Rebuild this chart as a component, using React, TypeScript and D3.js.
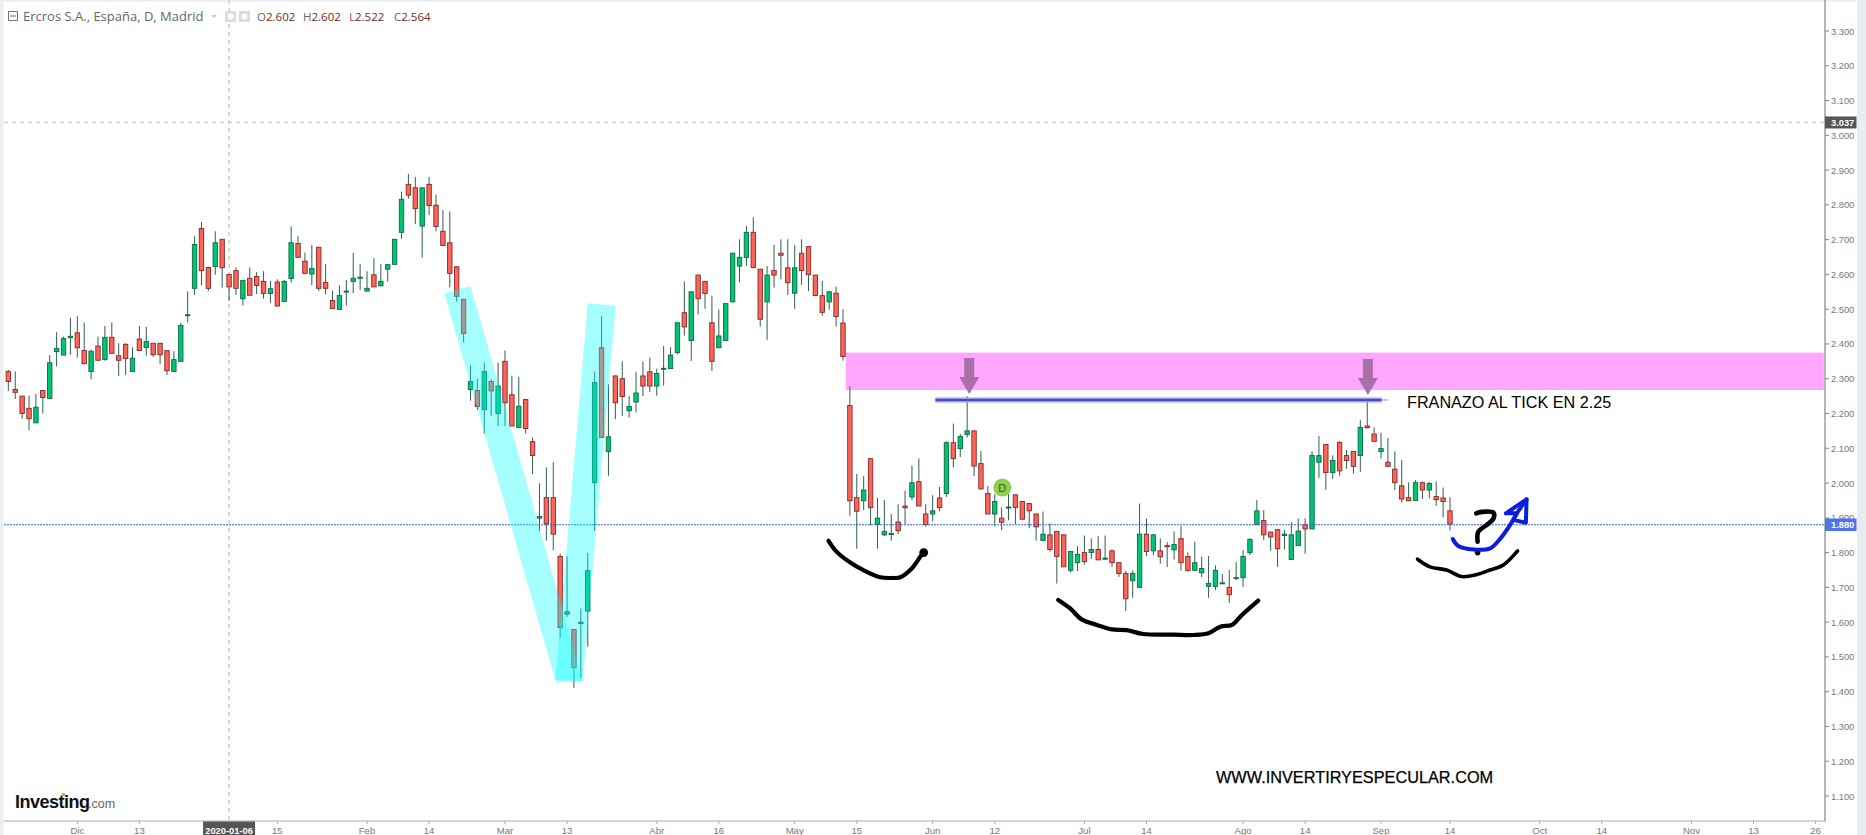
import React from 'react';
import * as d3 from 'd3';

const W = 1866, H = 835;

const highs = [
2.325,2.321,2.250,2.252,2.256,2.266,2.368,2.434,2.421,2.475,
2.480,2.462,2.384,2.421,2.452,2.462,2.402,2.402,2.390,2.451,
2.449,2.402,2.402,2.381,2.379,2.461,2.551,2.710,2.751,2.622,
2.724,2.701,2.601,2.620,2.583,2.620,2.607,2.609,2.581,2.586,
2.584,2.738,2.710,2.663,2.685,2.678,2.630,2.553,2.569,2.584,
2.662,2.630,2.609,2.647,2.630,2.628,2.701,2.838,2.889,2.880,
2.849,2.880,2.829,2.785,2.781,2.622,2.530,2.338,2.300,2.346,
2.298,2.346,2.381,2.309,2.306,2.240,2.131,1.999,2.045,2.060,
1.797,1.790,1.579,1.639,1.799,2.321,2.480,2.284,2.309,2.350,
2.250,2.320,2.349,2.361,2.329,2.394,2.390,2.461,2.580,2.551,
2.599,2.580,2.539,2.499,2.518,2.662,2.701,2.739,2.764,2.615,
2.624,2.685,2.701,2.701,2.684,2.701,2.680,2.598,2.581,2.552,
2.565,2.500,2.279,2.026,2.020,2.071,1.957,1.951,1.911,1.939,
1.978,2.050,2.071,1.939,1.965,1.989,2.120,2.171,2.141,2.250,
2.150,2.092,1.992,1.968,1.930,1.968,1.967,1.948,1.941,1.912,
1.918,1.884,1.862,1.851,1.803,1.818,1.849,1.841,1.847,1.849,
1.809,1.771,1.748,1.749,1.941,1.898,1.853,1.841,1.830,1.861,
1.876,1.801,1.831,1.788,1.790,1.763,1.738,1.750,1.773,1.807,
1.841,1.951,1.922,1.859,1.866,1.865,1.888,1.898,1.899,2.091,
2.135,2.111,2.080,2.120,2.095,2.091,2.181,2.243,2.160,2.145,
2.130,2.091,2.066,2.002,2.008,2.004,2.003,2.005,1.987,1.959];

const lows = [
2.265,2.242,2.185,2.152,2.173,2.200,2.243,2.335,2.368,2.369,
2.361,2.343,2.298,2.353,2.352,2.373,2.308,2.311,2.321,2.381,
2.366,2.363,2.342,2.311,2.321,2.350,2.462,2.541,2.569,2.552,
2.599,2.562,2.524,2.541,2.510,2.540,2.543,2.530,2.518,2.509,
2.522,2.577,2.649,2.603,2.569,2.552,2.543,2.502,2.499,2.510,
2.546,2.555,2.552,2.564,2.567,2.579,2.629,2.703,2.818,2.745,
2.648,2.771,2.724,2.682,2.563,2.522,2.405,2.237,2.210,2.142,
2.193,2.164,2.164,2.164,2.160,2.142,2.026,1.862,1.834,1.807,
1.554,1.615,1.411,1.440,1.529,1.862,2.131,2.021,2.184,2.193,
2.188,2.203,2.250,2.262,2.251,2.280,2.329,2.370,2.424,2.351,
2.485,2.501,2.322,2.389,2.410,2.521,2.577,2.625,2.620,2.450,
2.412,2.562,2.586,2.541,2.501,2.570,2.552,2.539,2.481,2.498,
2.450,2.352,1.906,1.811,1.922,1.879,1.811,1.847,1.834,1.853,
1.882,1.951,1.934,1.874,1.890,1.919,1.960,2.045,2.075,2.131,
2.020,1.982,1.911,1.876,1.864,1.893,1.882,1.896,1.870,1.834,
1.835,1.803,1.711,1.759,1.743,1.747,1.765,1.782,1.779,1.780,
1.759,1.730,1.632,1.670,1.700,1.790,1.792,1.768,1.759,1.780,
1.748,1.745,1.749,1.730,1.670,1.692,1.711,1.655,1.721,1.701,
1.793,1.881,1.836,1.805,1.759,1.809,1.780,1.820,1.797,1.868,
2.015,1.980,2.012,2.021,2.041,2.027,2.032,2.157,2.120,2.071,
2.047,1.980,1.944,1.949,1.950,1.954,1.956,1.934,1.901,1.864];

const opens = [
2.321,2.269,2.250,2.215,2.173,2.266,2.243,2.378,2.368,2.418,
2.432,2.381,2.321,2.394,2.355,2.419,2.366,2.399,2.321,2.414,
2.390,2.402,2.402,2.381,2.321,2.350,2.482,2.560,2.732,2.620,
2.623,2.701,2.600,2.611,2.530,2.589,2.594,2.580,2.545,2.578,
2.522,2.588,2.689,2.638,2.601,2.678,2.577,2.525,2.499,2.550,
2.580,2.591,2.552,2.599,2.567,2.615,2.629,2.721,2.859,2.849,
2.739,2.859,2.799,2.724,2.691,2.622,2.528,2.269,2.266,2.211,
2.292,2.200,2.350,2.254,2.160,2.240,2.119,1.899,1.958,1.958,
1.789,1.623,1.579,1.596,1.632,2.001,2.389,2.091,2.308,2.300,
2.208,2.233,2.308,2.320,2.279,2.328,2.329,2.375,2.490,2.410,
2.598,2.580,2.461,2.389,2.410,2.521,2.624,2.649,2.721,2.615,
2.521,2.611,2.661,2.619,2.546,2.661,2.680,2.598,2.539,2.521,
2.546,2.460,2.223,1.958,1.949,2.070,1.881,1.851,1.853,1.888,
1.934,1.960,2.004,1.911,1.911,1.957,1.970,2.116,2.099,2.140,
2.150,2.056,1.970,1.911,1.899,1.929,1.966,1.947,1.941,1.911,
1.835,1.851,1.861,1.851,1.749,1.771,1.800,1.800,1.809,1.781,
1.805,1.771,1.740,1.719,1.700,1.853,1.805,1.805,1.820,1.808,
1.840,1.789,1.749,1.742,1.703,1.703,1.711,1.700,1.726,1.728,
1.800,1.881,1.892,1.859,1.866,1.849,1.780,1.820,1.880,1.868,
2.060,2.111,2.030,2.117,2.079,2.091,2.079,2.164,2.141,2.091,
2.060,2.040,1.992,1.958,1.950,2.001,1.980,1.961,1.957,1.920];

const closes = [
2.292,2.261,2.200,2.185,2.218,2.246,2.346,2.387,2.416,2.422,
2.389,2.343,2.379,2.353,2.419,2.373,2.353,2.358,2.359,2.381,
2.407,2.369,2.369,2.323,2.355,2.453,2.484,2.686,2.611,2.560,
2.691,2.619,2.564,2.560,2.583,2.540,2.568,2.545,2.559,2.509,
2.580,2.691,2.649,2.603,2.617,2.560,2.560,2.502,2.539,2.552,
2.589,2.592,2.560,2.564,2.580,2.628,2.701,2.816,2.828,2.789,
2.849,2.798,2.738,2.683,2.603,2.537,2.430,2.292,2.220,2.321,
2.265,2.279,2.231,2.164,2.221,2.157,2.079,1.904,1.883,1.853,
1.584,1.630,1.469,1.600,1.748,2.289,2.131,2.133,2.231,2.249,
2.220,2.259,2.279,2.279,2.315,2.330,2.368,2.461,2.449,2.550,
2.530,2.545,2.350,2.423,2.516,2.661,2.649,2.721,2.620,2.471,
2.598,2.598,2.655,2.576,2.619,2.611,2.599,2.539,2.491,2.550,
2.479,2.364,1.949,1.919,1.980,1.929,1.899,1.861,1.855,1.863,
1.929,2.001,1.934,1.881,1.920,1.929,2.116,2.070,2.134,2.150,
2.049,1.983,1.911,1.947,1.887,1.931,1.930,1.896,1.920,1.874,
1.853,1.809,1.789,1.759,1.803,1.795,1.774,1.809,1.779,1.784,
1.771,1.740,1.667,1.740,1.853,1.803,1.851,1.788,1.818,1.823,
1.771,1.748,1.771,1.754,1.711,1.749,1.713,1.679,1.728,1.789,
1.838,1.920,1.851,1.845,1.811,1.853,1.851,1.862,1.868,2.079,
2.079,2.030,2.065,2.035,2.065,2.048,2.160,2.159,2.120,2.099,
2.048,2.001,1.954,1.949,2.001,1.980,1.999,1.952,1.947,1.882];

const priceTicks = [3.3,3.2,3.1,3.0,2.9,2.8,2.7,2.6,2.5,2.4,2.3,2.2,2.1,2.0,1.9,1.8,1.7,1.6,1.5,1.4,1.3,1.2,1.1];
const dateTickLabels = ['Dic','13','15','Feb','14','Mar','13','Abr','16','May','15','Jun','12','Jul','14','Ago','14','Sep','14','Oct','14','Nov','13','26'];
const dateTickBars = [10,19,39,52,61,72,81,94,103,114,123,134,143,156,165,179,188,199,209,222,231,244,253,262];
const crosshairBar = 32;
const crosshairLabel = '2020-01-06';
const crosshairPrice = 3.037;
const lastPrice = 1.88;

// Hand drawn annotations, as [bar, price]
const vLeftLeg = [[63.2,2.546],[67.0,2.567],[83.3,1.431],[79.4,1.426]];
const vRightLeg = [[84.0,2.517],[88.05,2.509],[83.3,1.431],[79.3,1.435]];
const resistanceZone = { bars: [121.4, 263.2], prices: [2.375, 2.2675] };
const tickLine = { bars: [134.4, 199.1], price: 2.239 };
const arrowTips = [[139.3,2.256],[197.1,2.253]];
const shoulderLeft = [[118.9,1.834],[120.1,1.802],[122.0,1.772],[123.9,1.750],[126.4,1.729],[128.1,1.727],[129.3,1.729],[131.0,1.755],[132.2,1.788],[132.7,1.800]];
const headCurve = [[152.2,1.664],[153.9,1.640],[155.6,1.608],[157.8,1.592],[160.0,1.579],[162.1,1.577],[164.5,1.566],[168.9,1.564],[171.8,1.563],[174.0,1.568],[175.7,1.587],[177.4,1.592],[178.8,1.620],[181.2,1.662]];
const shoulderRight = [[204.3,1.781],[206.1,1.759],[208.5,1.750],[210.7,1.731],[212.9,1.737],[214.8,1.750],[216.7,1.764],[218.8,1.805]];
const questionHook = [[212.8,1.913],[213.6,1.917],[215.3,1.915],[215.3,1.898],[214.3,1.879],[213.1,1.860],[213.0,1.831]];
const questionDot = [213.0,1.800];
const blueStroke = [[209.4,1.839],[210.2,1.819],[212.4,1.809],[214.8,1.812],[216.2,1.838],[217.7,1.879],[218.7,1.913],[220.1,1.953]];
const blueHead = [[217.1,1.913],[220.1,1.953],[220.0,1.886],[218.2,1.894],[218.7,1.913],[217.1,1.913]];
const dividendBadge = [144.1,1.987];

const x = d3.scaleLinear().domain([0, 209]).range([8.33, 1450]);
const y = d3.scaleLinear().domain([3.3, 1.1]).range([31, 796]);

const AXIS_X = 1825, AXIS_Y = 821;
const sans = '"Liberation Sans", Arial, sans-serif';
const ink = d3.line<number[]>().x(d => x(d[0])).y(d => y(d[1])).curve(d3.curveCatmullRom);
const poly = d3.line<number[]>().x(d => x(d[0])).y(d => y(d[1]));

function Arrow({ tip }: { tip: number[] }) {
  const tx = x(tip[0]), ty = y(tip[1]);
  const d = `M${tx},${ty} L${tx - 10},${ty - 17} L${tx - 5},${ty - 17} L${tx - 5},${ty - 36} L${tx + 5},${ty - 36} L${tx + 5},${ty - 17} L${tx + 10},${ty - 17} Z`;
  return <path d={d} fill="#a96fa9" />;
}

export default function App() {
  const [bx, by] = dividendBadge;
  return (
    <svg width={W} height={H} viewBox={`0 0 ${W} ${H}`}
      style={{ position: 'fixed', left: 0, top: 0, display: 'block', background: '#ffffff' }}>
      {/* frame */}
      <rect x={0} y={0} width={W} height={1.5} fill="#e8ecf1" />
      <rect x={0} y={0} width={3.5} height={H} fill="#eceef2" />
      <rect x={1857} y={0} width={9} height={H} fill="#e8ecf1" />

      {/* crosshair */}
      <line x1={x(crosshairBar)} x2={x(crosshairBar)} y1={0} y2={AXIS_Y} stroke="#c9c9c9" strokeWidth={1.4} strokeDasharray="4 4" />
      <line x1={4} x2={AXIS_X} y1={y(crosshairPrice)} y2={y(crosshairPrice)} stroke="#c9c9c9" strokeWidth={1.2} strokeDasharray="4 4" />

      {/* candles */}
      <g>
        {opens.map((o, i) => {
          const c = closes[i];
          const up = c >= o;
          const top = y(Math.max(o, c)), bot = y(Math.min(o, c));
          return (
            <g key={i}>
              <line x1={x(i)} x2={x(i)} y1={y(highs[i])} y2={y(lows[i])} stroke="#2f5f4e" strokeWidth={1} />
              <rect x={x(i) - 2.2} y={top} width={4.4} height={Math.max(bot - top, 1)}
                fill={up ? '#00c472' : '#ff6458'} stroke={up ? '#0b6a46' : '#7f2a28'} strokeWidth={0.9} />
            </g>
          );
        })}
      </g>

      {/* last price line */}
      <line x1={4} x2={AXIS_X} y1={y(lastPrice)} y2={y(lastPrice)} stroke="#2f62e8" strokeWidth={1} strokeDasharray="2 1" />

      {/* V pattern */}
      <path d={poly(vLeftLeg) + 'Z'} fill="#00ffff" fillOpacity={0.35} />
      <path d={poly(vRightLeg) + 'Z'} fill="#00ffff" fillOpacity={0.35} />

      {/* resistance zone */}
      <rect x={x(resistanceZone.bars[0])} width={x(resistanceZone.bars[1]) - x(resistanceZone.bars[0])}
        y={y(resistanceZone.prices[0])} height={y(resistanceZone.prices[1]) - y(resistanceZone.prices[0])}
        fill="#ff00ff" fillOpacity={0.35} />

      {/* tick line */}
      <line x1={x(tickLine.bars[0])} x2={x(tickLine.bars[1])} y1={y(tickLine.price)} y2={y(tickLine.price)} stroke="#9a9aea" strokeWidth={5} />
      <line x1={x(tickLine.bars[0])} x2={x(tickLine.bars[1])} y1={y(tickLine.price)} y2={y(tickLine.price)} stroke="#4a4ac4" strokeWidth={2} />
      <line x1={x(tickLine.bars[1])} x2={x(tickLine.bars[1]) + 6} y1={y(tickLine.price)} y2={y(tickLine.price)} stroke="#c4c4c4" strokeWidth={2} />

      {arrowTips.map((t, i) => <Arrow key={i} tip={t} />)}

      {/* hand drawn */}
      <path d={ink(shoulderLeft)!} fill="none" stroke="#000" strokeWidth={4.2} strokeLinecap="round" strokeLinejoin="round" />
      <circle cx={x(132.7)} cy={y(1.800)} r={4.4} fill="#000" />
      <path d={ink(headCurve)!} fill="none" stroke="#000" strokeWidth={4.2} strokeLinecap="round" strokeLinejoin="round" />
      <path d={ink(shoulderRight)!} fill="none" stroke="#000" strokeWidth={3.6} strokeLinecap="round" strokeLinejoin="round" />
      <path d={ink(questionHook)!} fill="none" stroke="#000" strokeWidth={4.6} strokeLinecap="round" strokeLinejoin="round" />
      <circle cx={x(questionDot[0])} cy={y(questionDot[1])} r={2.8} fill="#000" />
      <path d={ink(blueStroke)!} fill="none" stroke="#0a1ee0" strokeWidth={4} strokeLinecap="round" strokeLinejoin="round" />
      <path d={poly(blueHead)!} fill="none" stroke="#0a1ee0" strokeWidth={4} strokeLinecap="round" strokeLinejoin="round" />

      {/* badge */}
      <circle cx={x(bx)} cy={y(by)} r={9} fill="#8ed14f" />
      <text x={x(bx)} y={y(by) + 4} textAnchor="middle" fontFamily={sans} fontSize={11} fill="#3d5a28">D</text>

      {/* notes */}
      <text x={1407} y={407.5} fontFamily={sans} fontSize={16.2} fill="#000">FRANAZO AL TICK EN 2.25</text>
      <text x={1216} y={783} fontFamily={sans} fontSize={16.3} fill="#000" stroke="#000" strokeWidth={0.25}>WWW.INVERTIRYESPECULAR.COM</text>

      {/* axes */}
      <line x1={AXIS_X} x2={AXIS_X} y1={0} y2={AXIS_Y + 0.5} stroke="#808488" strokeWidth={1.2} />
      <line x1={4} x2={AXIS_X} y1={AXIS_Y} y2={AXIS_Y} stroke="#a8aaad" strokeWidth={1.2} />
      {priceTicks.map(p => (
        <g key={p}>
          <line x1={AXIS_X} x2={AXIS_X + 4} y1={y(p)} y2={y(p)} stroke="#808488" />
          <text x={AXIS_X + 6} y={y(p) + 3.5} fontFamily={sans} fontSize={9.3} fill="#777">{p.toFixed(3)}</text>
        </g>
      ))}
      {dateTickBars.map((b, i) => (
        <g key={i}>
          <line x1={x(b)} x2={x(b)} y1={AXIS_Y} y2={AXIS_Y + 3} stroke="#a8aaad" />
          <text x={x(b)} y={833.5} textAnchor="middle" fontFamily={sans} fontSize={9.6} fill="#777">{dateTickLabels[i]}</text>
        </g>
      ))}

      {/* price tags */}
      <rect x={AXIS_X} y={y(crosshairPrice) - 6} width={31.5} height={12} fill="#555" />
      <text x={AXIS_X + 6} y={y(crosshairPrice) + 3.5} fontFamily={sans} fontSize={9.3} fontWeight="bold" fill="#fff">{crosshairPrice.toFixed(3)}</text>
      <rect x={AXIS_X} y={y(lastPrice) - 6.3} width={31.5} height={12.6} fill="#4f74e8" />
      <text x={AXIS_X + 6} y={y(lastPrice) + 3.5} fontFamily={sans} fontSize={9.3} fontWeight="bold" fill="#fff">{lastPrice.toFixed(3)}</text>
      <rect x={x(crosshairBar) - 26} y={AXIS_Y + 0.5} width={52} height={H - AXIS_Y} fill="#555" />
      <text x={x(crosshairBar)} y={833.5} textAnchor="middle" fontFamily={sans} fontSize={9.3} fontWeight="bold" fill="#fff">{crosshairLabel}</text>

      {/* header */}
      <rect x={8.5} y={11.5} width={9} height={9} fill="none" stroke="#666" strokeWidth={0.9} />
      <line x1={10} x2={16} y1={16} y2={16} stroke="#666" />
      <text x={23} y={21} fontFamily={'"Open Sans", sans-serif'} fontSize={13} fill="#666">Ercros S.A., España, D, Madrid</text>
      <path d="M211,15 L217,15 L214,18 Z" fill="#c9c9c9" />
      <rect x={225} y={11} width={11} height={11} fill="#dcdcdc" />
      <circle cx={230.5} cy={16.5} r={3} fill="#fff" />
      <rect x={239} y={11} width={11} height={11} fill="#dcdcdc" />
      <circle cx={244.5} cy={16.5} r={3} fill="#fff" />
      {[['O','2.602',257],['H','2.602',303],['L','2.522',349],['C','2.564',394]].map(([k, v, px]) => (
        <text key={k as string} x={px as number} y={21} fontFamily={'"Open Sans", sans-serif'} fontSize={11.5} fill="#666">
          {k}<tspan fill="#6e2a26">{v}</tspan>
        </text>
      ))}

      {/* logo */}
      <text x={15} y={808} fontFamily={sans} fontSize={18} fontWeight="bold" letterSpacing={-0.5} fill="#111">Investing</text>
      <text x={88} y={808} fontFamily={sans} fontSize={12.5} fill="#666">.com</text>
      <rect x={62} y={793} width={3} height={3} fill="#f7a01d" />
    </svg>
  );
}
